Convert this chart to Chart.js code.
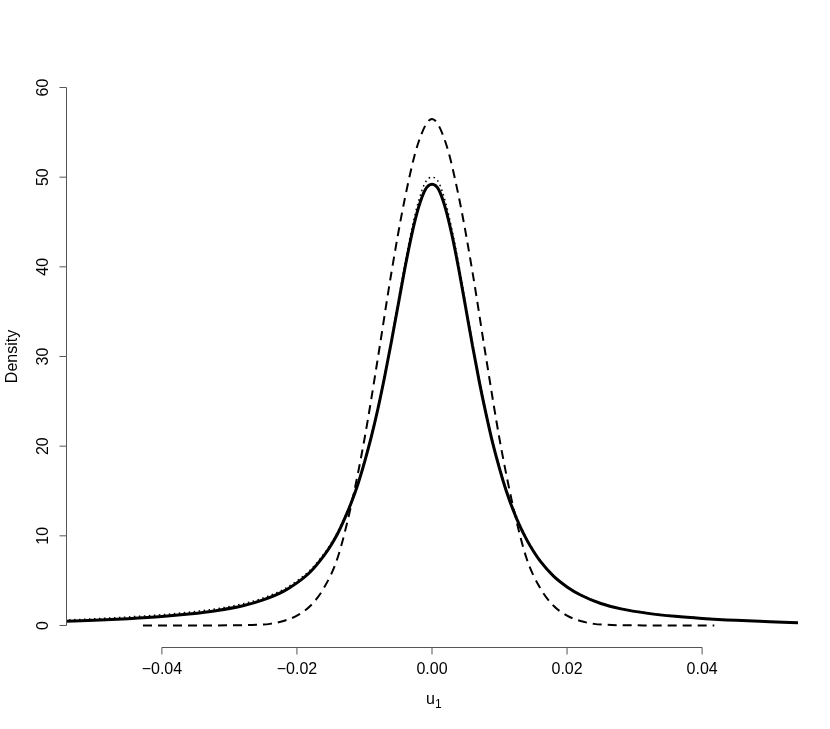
<!DOCTYPE html>
<html>
<head>
<meta charset="utf-8">
<script src="https://cdn.jsdelivr.net/npm/chart.js@4"></script>
<style>
	body { margin: 0; background: #fff; }
	canvas { display: block; }
</style>
</head>
<body>
<canvas id="densityChart" width="830" height="729"></canvas>
<script>
// values
const curveX = [-0.0545, -0.050, -0.045, -0.040, -0.036, -0.032, -0.028, -0.025, -0.022, -0.020, -0.018,
	-0.016, -0.015, -0.014, -0.013, -0.012, -0.011, -0.010, -0.009, -0.008, -0.007, -0.006, -0.005, -0.004, -0.003, -0.002, -0.001, 0,
	0.001, 0.002, 0.003, 0.004, 0.005, 0.006, 0.007, 0.008, 0.009, 0.010, 0.011, 0.012, 0.013, 0.014, 0.015, 0.016,
	0.018, 0.020, 0.022, 0.025, 0.028, 0.032, 0.036, 0.040, 0.045, 0.050, 0.0545];
const solidY = [0.45, 0.58, 0.76, 1.0, 1.28, 1.65, 2.2, 2.85, 3.8, 4.75, 6.0,
	7.8, 8.9, 10.2, 11.8, 13.6, 15.7, 18.2, 21.0, 24.2, 27.8, 31.7, 35.8, 39.9, 43.6, 46.6, 48.6, 49.2,
	48.6, 46.5, 43.4, 39.6, 35.4, 31.2, 27.2, 23.6, 20.3, 17.5, 15.0, 12.9, 11.1, 9.6, 8.3, 7.2,
	5.5, 4.3, 3.4, 2.45, 1.85, 1.35, 1.02, 0.79, 0.58, 0.43, 0.3];
const dottedY = [0.6, 0.75, 0.95, 1.2, 1.48, 1.86, 2.42, 3.07, 4.02, 4.97, 6.2,
	8.0, 9.1, 10.4, 12.0, 13.8, 15.9, 18.4, 21.2, 24.5, 28.1, 32.0, 36.2, 40.4, 44.2, 47.3, 49.4, 50.0,
	49.4, 47.2, 44.0, 40.1, 35.8, 31.5, 27.4, 23.8, 20.5, 17.7, 15.2, 13.1, 11.3, 9.7, 8.4, 7.3,
	5.55, 4.35, 3.45, 2.5, 1.9, 1.4, 1.06, 0.82, 0.6, 0.45, 0.32];

const dashedX = [-0.0428, -0.035, -0.030, -0.026, -0.024, -0.022, -0.020, -0.018, -0.016, -0.014, -0.012, -0.010, -0.008, -0.006, -0.004, -0.002, 0,
	0.002, 0.004, 0.006, 0.008, 0.010, 0.012, 0.014, 0.016, 0.018, 0.020, 0.022, 0.024, 0.026, 0.030, 0.035, 0.0418];
const dashedY = [0.0, 0.0, 0.02, 0.07, 0.18, 0.5, 1.1, 2.2, 4.2, 7.5, 13.3, 20.8, 29.9, 39.4, 47.7, 53.9, 56.5,
	53.9, 47.7, 39.4, 29.9, 20.8, 13.3, 7.5, 4.2, 2.2, 1.1, 0.5, 0.18, 0.07, 0.02, 0.0, 0.0];

const xTicks = [-0.04, -0.02, 0, 0.02, 0.04];
const xTickLabels = ["\u22120.04", "\u22120.02", "0.00", "0.02", "0.04"];
const yTicks = [0, 10, 20, 30, 40, 50, 60];
const yTickLabels = ["0", "10", "20", "30", "40", "50", "60"];

function toPoints(xs, ys) {
	return xs.map((x, i) => ({ x: x, y: ys[i] }));
}

const FONT = '16px "Liberation Sans", Arial, sans-serif';

// R style axes: line only over the tick range, ticks outside
const rAxes = {
	id: "rAxes",
	afterDraw(chart) {
		const ctx = chart.ctx;
		const xs = chart.scales.x;
		const ys = chart.scales.y;
		const area = chart.chartArea;
		const tick = 7;
		ctx.save();
		ctx.strokeStyle = "#555";
		ctx.lineWidth = 1;
		ctx.fillStyle = "#000";
		ctx.font = FONT;

		// x axis
		const xb = Math.round(area.bottom) + 0.5;
		const x0 = xs.getPixelForValue(xTicks[0]);
		const x1 = xs.getPixelForValue(xTicks[xTicks.length - 1]);
		ctx.beginPath();
		ctx.moveTo(x0, xb);
		ctx.lineTo(x1, xb);
		xTicks.forEach((v) => {
			const px = xs.getPixelForValue(v);
			ctx.moveTo(px, xb);
			ctx.lineTo(px, xb + tick);
		});
		ctx.stroke();
		ctx.textAlign = "center";
		ctx.textBaseline = "middle";
		xTicks.forEach((v, i) => {
			ctx.fillText(xTickLabels[i], xs.getPixelForValue(v), xb + 22);
		});

		// y axis
		const yl = Math.round(area.left) + 0.5;
		const y0 = ys.getPixelForValue(yTicks[0]);
		const y1 = ys.getPixelForValue(yTicks[yTicks.length - 1]);
		ctx.beginPath();
		ctx.moveTo(yl, y0);
		ctx.lineTo(yl, y1);
		yTicks.forEach((v) => {
			const py = ys.getPixelForValue(v);
			ctx.moveTo(yl, py);
			ctx.lineTo(yl - tick, py);
		});
		ctx.stroke();
		yTicks.forEach((v, i) => {
			ctx.save();
			ctx.translate(yl - 23, ys.getPixelForValue(v));
			ctx.rotate(-Math.PI / 2);
			ctx.fillText(yTickLabels[i], 0, 0);
			ctx.restore();
		});

		// axis titles
		const midX = (area.left + area.right) / 2;
		ctx.textAlign = "left";
		ctx.fillText("u", midX - 6, xb + 52);
		ctx.font = '12px "Liberation Sans", Arial, sans-serif';
		ctx.fillText("1", midX + 3, xb + 57);
		ctx.font = FONT;
		ctx.save();
		ctx.translate(yl - 54, (area.top + area.bottom) / 2);
		ctx.rotate(-Math.PI / 2);
		ctx.textAlign = "center";
		ctx.fillText("Density", 0, 0);
		ctx.restore();
		ctx.restore();
	},
};

const ctx = document.getElementById("densityChart").getContext("2d");

new Chart(ctx, {
	type: "scatter",
	data: {
		datasets: [
			{
				label: "dashed",
				data: toPoints(dashedX, dashedY),
				showLine: true,
				borderColor: "#000",
				borderWidth: 2,
				borderDash: [9, 6],
				pointRadius: 0,
				cubicInterpolationMode: "monotone",
				fill: false,
			},
			{
				label: "dotted",
				data: toPoints(curveX, dottedY),
				showLine: true,
				borderColor: "#000",
				borderWidth: 1.5,
				borderDash: [1.5, 3.5],
				pointRadius: 0,
				cubicInterpolationMode: "monotone",
				fill: false,
			},
			{
				label: "solid",
				data: toPoints(curveX, solidY),
				showLine: true,
				borderColor: "#000",
				borderWidth: 3,
				pointRadius: 0,
				cubicInterpolationMode: "monotone",
				fill: false,
			},
		],
	},
	options: {
		responsive: false,
		animation: false,
		layout: {
			padding: { left: 66, right: 32, top: 66, bottom: 82 },
		},
		scales: {
			x: { type: "linear", min: -0.0542, max: 0.0542, display: false },
			y: { type: "linear", min: -2.4, max: 62.4, display: false },
		},
		plugins: {
			legend: { display: false },
			tooltip: { enabled: false },
		},
	},
	plugins: [rAxes],
});
</script>
</body>
</html>
